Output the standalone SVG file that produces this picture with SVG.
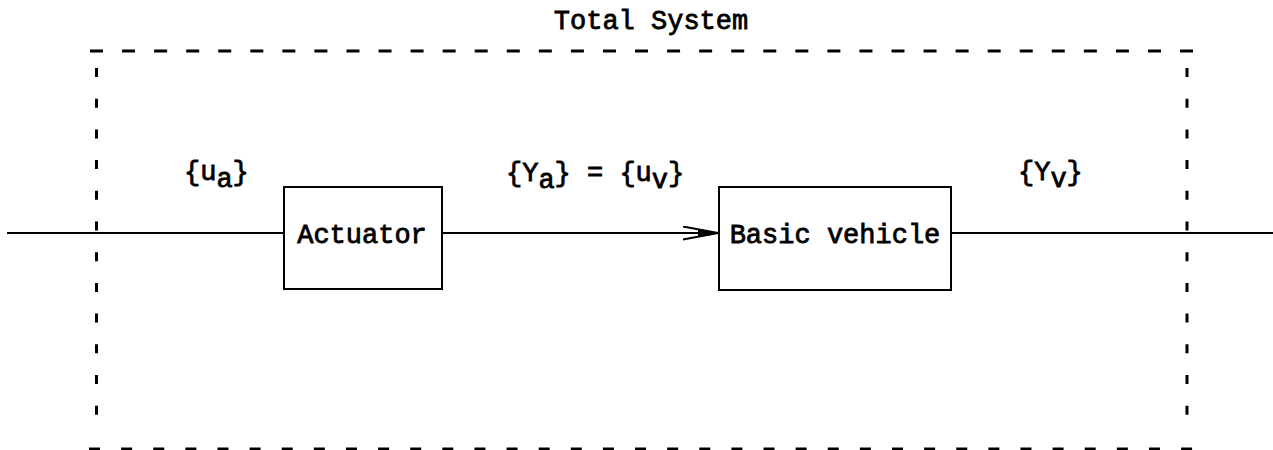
<svg xmlns="http://www.w3.org/2000/svg" width="1273" height="450" viewBox="0 0 1273 450">
  <style>
    .lbl { font-family: "Liberation Mono", "Courier New", monospace; font-size: 27px; fill: #000; stroke: #000; stroke-width: 0.8; }
    .box { fill: none; stroke: #000; stroke-width: 2; }
    .wire { fill: none; stroke: #000; stroke-width: 1.8; }
    .bound { fill: none; stroke: #000; stroke-width: 3; }
  </style>
  <defs>
    <marker id="arrow" markerUnits="userSpaceOnUse" markerWidth="40" markerHeight="16" refX="36" refY="7" orient="auto">
      <path d="M1,0.5 L36,7 L1,13.5" fill="none" stroke="#000" stroke-width="2"/>
      <path d="M16,3.5 L36,7 L16,10.5 Z" fill="#000"/>
    </marker>
  </defs>

  <rect width="1273" height="450" fill="#fff"/>

  <!-- system boundary -->
  <g id="total-system">
    <line class="bound" x1="90" y1="51" x2="1193" y2="51" stroke-dasharray="13 19.06"/>
    <line class="bound" x1="89" y1="449" x2="1193" y2="449" stroke-dasharray="11 21.12"/>
    <line class="bound" x1="96.5" y1="68" x2="96.5" y2="415" stroke-dasharray="9 21.7"/>
    <line class="bound" x1="1187" y1="68" x2="1187" y2="415" stroke-dasharray="9 21.7"/>
    <text class="lbl" x="651" y="29" text-anchor="middle">Total System</text>
  </g>

  <!-- signal lines -->
  <g id="connectors">
    <line class="wire" x1="7" y1="233" x2="284" y2="233"/>
    <line class="wire" x1="442" y1="233" x2="718" y2="233" marker-end="url(#arrow)"/>
    <line class="wire" x1="951" y1="233" x2="1273" y2="233"/>
  </g>

  <g id="actuator">
    <rect class="box" x="284" y="187" width="158" height="102"/>
    <text class="lbl" x="362" y="243" text-anchor="middle">Actuator</text>
  </g>

  <g id="basic-vehicle">
    <rect class="box" x="719" y="187" width="232" height="103"/>
    <text class="lbl" x="835" y="243" text-anchor="middle">Basic vehicle</text>
  </g>

  <!-- signal labels -->
  <g id="signal-labels">
    <text class="lbl" x="184" y="180">{u<tspan dy="7">a</tspan><tspan dy="-7">}</tspan></text>
    <text class="lbl" x="506" y="181">{Y<tspan dy="7">a</tspan><tspan dy="-7">} = {u</tspan><tspan dy="7">v</tspan><tspan dy="-7">}</tspan></text>
    <text class="lbl" x="1018" y="180">{Y<tspan dy="7">v</tspan><tspan dy="-7">}</tspan></text>
  </g>
</svg>
